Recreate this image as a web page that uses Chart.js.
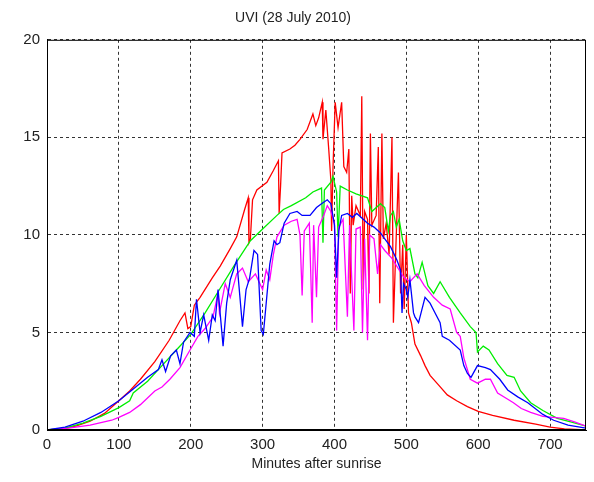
<!DOCTYPE html>
<html>
<head>
<meta charset="utf-8">
<title>UVI (28 July 2010)</title>
<script src="https://cdn.jsdelivr.net/npm/chart.js@4.4.1/dist/chart.umd.min.js"></script>
<style>
  body { margin: 0; background: #fff; }
  #wrap { width: 594px; height: 482px; }
</style>
</head>
<body>
<div id="wrap"><canvas id="uviChart" width="594" height="482"></canvas></div>
<script>
// Tick labels
const xTicks = [0, 100, 200, 300, 400, 500, 600, 700];
const yTicks = [0, 5, 10, 15, 20];

// Red series (minutes after sunrise / UVI)
const redMinutes = [0, 20, 40, 60, 80, 100, 115, 130, 150, 170, 185, 192, 196, 200, 205, 213, 230, 241, 255, 264,
  275, 280, 281, 283, 286, 292, 306, 315, 322, 323, 325, 327, 338, 345, 352, 362, 370, 374, 378, 383,
  384, 388, 392, 395, 396, 398, 401, 405, 410, 413, 417, 420, 422, 424, 426, 430, 436, 438, 440, 442,
  446, 448, 450, 452, 458, 461, 463, 466, 468, 472, 476, 480, 482, 486, 489, 492, 495, 497, 500, 503,
  507, 512, 520, 526, 533, 545, 557, 570, 585, 600, 620, 650, 680, 700, 720, 750];
const redUvi = [0, 0.05, 0.2, 0.45, 0.85, 1.5, 2.0, 2.6, 3.5, 4.6, 5.6, 6.0, 5.2, 5.3, 6.4, 6.8, 7.8, 8.4, 9.3, 9.9,
  11.3, 11.9, 9.6, 9.8, 11.8, 12.3, 12.7, 13.3, 13.8, 11.1, 12.5, 14.2, 14.4, 14.6, 14.9, 15.4, 16.2, 15.6, 16.0, 16.8,
  14.9, 16.4, 14.4, 12.8, 10.2, 13.5, 16.8, 15.5, 16.8, 13.5, 13.2, 14.4, 7.0, 12.0, 10.5, 11.5, 11.0, 17.1, 7.2, 11.2,
  10.8, 7.0, 15.2, 10.5, 11.0, 14.5, 6.5, 15.2, 9.8, 10.6, 9.0, 15.0, 5.5, 10.0, 13.2, 7.0, 9.5, 6.2, 10.0, 6.0,
  5.5, 4.4, 3.8, 3.3, 2.8, 2.3, 1.8, 1.5, 1.2, 0.95, 0.75, 0.5, 0.3, 0.15, 0.06, 0];

// Green series
const greenMinutes = [0, 25, 50, 75, 100, 115, 120, 140, 160, 180, 200, 220, 240, 260, 283, 300, 320, 329, 340, 360,
  370, 382, 384, 386, 395, 398, 403, 405, 408, 418, 430, 446, 452, 464, 470, 475, 478, 482, 486, 490,
  495, 500, 505, 512, 516, 522, 530, 538, 547, 560, 575, 589, 597, 599, 607, 615, 627, 640, 650, 659,
  673, 690, 710, 730, 750];
const greenUvi = [0, 0.1, 0.35, 0.7, 1.15, 1.5, 1.9, 2.5, 3.3, 4.1, 4.9, 6.0, 7.2, 8.4, 9.7, 10.3, 11.0, 11.3, 11.5, 11.9,
  12.2, 12.4, 9.6, 12.3, 12.7, 13.0, 12.2, 9.9, 12.5, 12.3, 12.1, 11.9, 11.2, 11.6, 11.4, 10.2, 11.0, 11.2, 10.4, 10.8,
  9.7, 9.2, 9.3, 8.0, 7.8, 8.6, 7.4, 7.0, 7.6, 6.8, 6.0, 5.3, 5.0, 4.0, 4.3, 4.1, 3.4, 2.8, 2.7, 2.0,
  1.4, 1.0, 0.6, 0.4, 0.2];

// Blue series
const blueMinutes = [0, 25, 50, 75, 100, 120, 140, 155, 160, 165, 172, 180, 185, 190, 199, 205, 208, 213, 218, 225,
  230, 234, 238, 245, 250, 255, 264, 268, 272, 277, 282, 288, 293, 298, 301, 305, 310, 316, 320, 324,
  330, 338, 348, 355, 366, 375, 382, 390, 395, 400, 403, 406, 410, 418, 425, 431, 440, 446, 455, 464,
  470, 478, 487, 492, 494, 496, 500, 502, 505, 510, 512, 517, 526, 533, 540, 547, 550, 560, 575, 580,
  585, 590, 599, 610, 617, 630, 641, 655, 669, 690, 705, 725, 750];
const blueUvi = [0, 0.15, 0.45, 0.9, 1.5, 2.1, 2.7, 3.1, 3.6, 3.0, 3.8, 4.1, 3.4, 4.5, 5.0, 4.8, 6.7, 5.0, 5.9, 4.6,
  5.9, 5.6, 7.2, 4.3, 6.5, 7.7, 8.7, 7.0, 5.3, 7.2, 7.8, 9.2, 9.0, 5.1, 4.9, 6.5, 8.5, 9.7, 9.5, 9.6,
  10.6, 11.1, 11.2, 11.0, 11.0, 11.4, 11.6, 11.8, 11.6, 10.5, 7.8, 10.2, 11.0, 11.1, 10.9, 11.1, 10.8, 10.6, 10.4, 10.1,
  9.8, 9.4, 8.7, 8.2, 6.0, 7.5, 7.2, 6.8, 7.7, 6.0, 5.8, 5.5, 6.8, 6.5, 6.0, 5.5, 4.8, 4.6, 4.1, 3.3,
  2.9, 2.7, 3.3, 3.2, 3.1, 2.6, 2.05, 1.7, 1.4, 0.8, 0.5, 0.25, 0.1];

// Magenta series
const magentaMinutes = [0, 30, 60, 90, 100, 115, 130, 150, 160, 171, 185, 199, 210, 220, 231, 238, 240, 248, 255, 264,
  272, 280, 290, 300, 305, 310, 315, 320, 330, 340, 348, 352, 355, 358, 365, 369, 371, 375, 378, 385,
  390, 395, 400, 403, 406, 412, 418, 421, 427, 430, 436, 439, 442, 446, 449, 455, 460, 464, 470, 480,
  490, 497, 505, 515, 525, 538, 550, 561, 570, 575, 580, 589, 599, 610, 617, 627, 640, 649, 660, 673,
  690, 719, 735, 750];
const magentaUvi = [0, 0.1, 0.25, 0.5, 0.65, 0.9, 1.3, 2.0, 2.2, 2.6, 3.2, 4.1, 4.8, 5.2, 5.8, 7.0, 6.0, 7.5, 6.8, 8.0,
  8.3, 7.6, 8.0, 7.2, 8.2, 7.7, 9.0, 9.9, 10.5, 10.7, 10.8, 10.0, 6.9, 10.2, 10.6, 5.5, 10.5, 6.8, 10.4, 11.0,
  11.5, 11.2, 10.6, 5.1, 10.4, 10.8, 5.8, 10.5, 5.1, 10.3, 10.4, 5.0, 9.8, 4.6, 10.0, 9.8, 8.0, 9.5, 9.2, 8.8,
  8.2, 7.8, 7.6, 8.0, 7.4, 6.8, 6.4, 6.2, 5.0, 4.8, 3.7, 2.6, 2.4, 2.6, 2.6, 1.9, 1.6, 1.4, 1.1, 0.9,
  0.7, 0.6, 0.4, 0.2];

function toPoints(xs, ys) {
    return xs.map(function(x, i) { return { x: x, y: ys[i] }; });
}

// solid frame around the plot, like the matlab box
const boxPlugin = {
    id: 'box',
    afterDraw: function(chart) {
        const a = chart.chartArea;
        const ctx = chart.ctx;
        ctx.save();
        ctx.strokeStyle = '#000';
        ctx.lineWidth = 1;
        ctx.setLineDash([]);
        ctx.strokeRect(a.left + 0.5, a.top + 0.5, a.right - a.left - 1, a.bottom - a.top - 1);
        ctx.restore();
    }
};

const fontFamily = "'Liberation Sans', Arial, sans-serif";

const ctx = document.getElementById('uviChart').getContext('2d');
const chart = new Chart(ctx, {
    type: 'line',
    data: {
        datasets: [
            { label: 'red', data: toPoints(redMinutes, redUvi), borderColor: '#ff0000', order: 3 },
            { label: 'green', data: toPoints(greenMinutes, greenUvi), borderColor: '#00ee00', order: 2 },
            { label: 'magenta', data: toPoints(magentaMinutes, magentaUvi), borderColor: '#ff00ff', order: 1 },
            { label: 'blue', data: toPoints(blueMinutes, blueUvi), borderColor: '#0000ff', order: 0 }
        ]
    },
    options: {
        responsive: false,
        animation: false,
        devicePixelRatio: 1,
        elements: {
            line: { borderWidth: 1.3, tension: 0, fill: false },
            point: { radius: 0 }
        },
        layout: { padding: { left: 0, right: 8, top: 0, bottom: 0 } },
        plugins: {
            legend: { display: false },
            tooltip: { enabled: false },
            title: {
                display: true,
                text: 'UVI (28 July 2010)',
                color: '#222',
                font: { family: fontFamily, size: 14, weight: 'normal' },
                padding: { top: 10, bottom: 13 }
            }
        },
        scales: {
            x: {
                type: 'linear',
                min: 0,
                max: 750,
                afterBuildTicks: function(s) { s.ticks = xTicks.map(function(v) { return { value: v }; }); },
                afterFit: function(s) { s.height = 52; },
                ticks: { color: '#222', padding: 6, maxRotation: 0, font: { family: fontFamily, size: 15 } },
                grid: { color: '#333', lineWidth: 1, drawTicks: false },
                border: { display: true, color: '#000', dash: [3, 3] },
                title: {
                    display: true,
                    text: 'Minutes after sunrise',
                    color: '#222',
                    font: { family: fontFamily, size: 14 },
                    padding: { top: 2, bottom: 9 }
                }
            },
            y: {
                min: 0,
                max: 20,
                afterBuildTicks: function(s) { s.ticks = yTicks.map(function(v) { return { value: v }; }); },
                afterFit: function(s) { s.width = 47; },
                ticks: { color: '#222', padding: 7, font: { family: fontFamily, size: 15 } },
                grid: { color: '#333', lineWidth: 1, drawTicks: false },
                border: { display: true, color: '#000', dash: [3, 3] }
            }
        }
    },
    plugins: [boxPlugin]
});
</script>
</body>
</html>
